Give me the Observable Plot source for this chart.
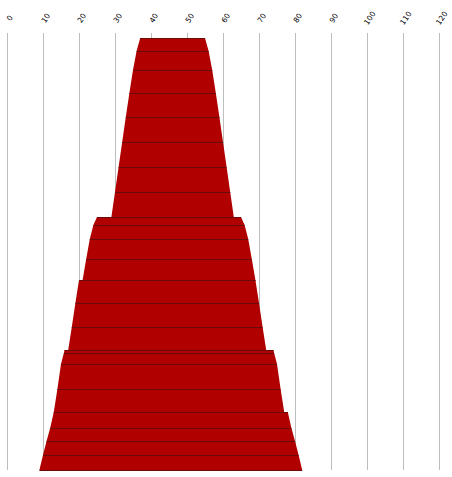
<!DOCTYPE html>
<html>
<head>
<meta charset="utf-8">
<script src="https://cdn.jsdelivr.net/npm/d3@7"></script>
<script src="https://cdn.jsdelivr.net/npm/@observablehq/plot@0.6"></script>
<style>
  html, body { margin: 0; padding: 0; background: #fff; }
  svg { display: block; }
</style>
</head>
<body>
<div id="chart"></div>
<script>
// Value axis ticks
const ticks = [0, 10, 20, 30, 40, 50, 60, 70, 80, 90, 100, 110, 120];

// Band boundaries, from top (depth 0) to bottom, with left and right edge values.
// Repeated depths are the steps between sections.
const depth = [0, 13, 32, 55, 79, 104, 129, 154, 179, 179, 187, 201, 221, 242, 242, 265, 289, 312, 312, 315, 326, 351, 374, 374, 390, 403, 417, 432];
const leftEdge = [37, 36, 35, 34, 33, 32, 31, 30, 29, 25, 24, 23, 22, 21, 20, 19, 18, 17, 16, 15.8, 15, 14, 13, 13, 12, 11, 10, 9];
const rightEdge = [55, 56, 57, 58, 59, 60, 61, 62, 63, 65, 66, 67, 68, 69, 69, 70, 71, 72, 74, 74.2, 75, 76, 77, 78, 79, 80, 81, 82];

const levels = depth.map((d, i) => ({depth: d, left: leftEdge[i], right: rightEdge[i]}));

const chart = Plot.plot({
  width: 452,
  height: 477,
  marginTop: 33,
  marginBottom: 7,
  marginLeft: 7,
  marginRight: 13,
  style: {fontFamily: "DejaVu Sans", background: "#fff"},
  x: {domain: [0, 120], axis: null},
  y: {domain: [0, 432], reverse: true, insetTop: 5, axis: null},
  marks: [
    Plot.ruleX(ticks, {x: d => d, stroke: "#bdbdbd", strokeWidth: 1}),
    Plot.areaX(levels, {y: "depth", x1: "left", x2: "right", fill: "#b10000", curve: "linear"}),
    Plot.ruleY(levels, {y: "depth", x1: "left", x2: "right", stroke: "#6b0c0c", strokeWidth: 1}),
    Plot.text(ticks, {
      x: d => d,
      text: d => String(d),
      frameAnchor: "top",
      dy: -17,
      rotate: -55,
      textAnchor: "middle",
      fontSize: 7.5,
      fill: "#000"
    })
  ]
});
document.getElementById("chart").appendChild(chart);
</script>
</body>
</html>
